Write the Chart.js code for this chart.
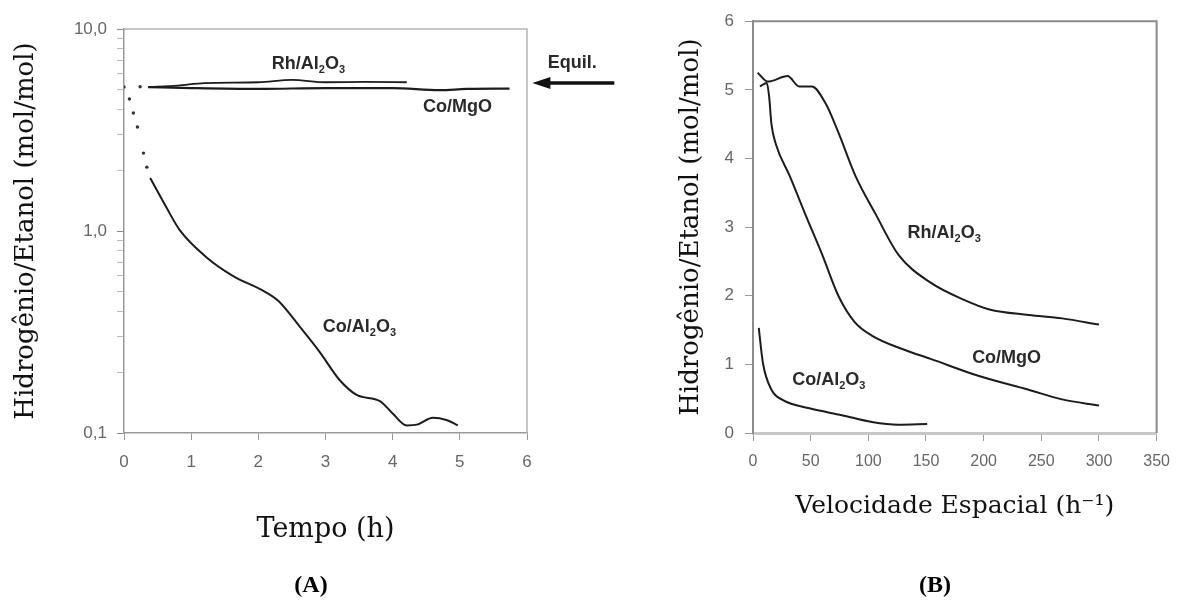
<!DOCTYPE html>
<html lang="pt">
<head>
<meta charset="utf-8">
<title>Hidrogênio/Etanol</title>
<script src="https://cdn.jsdelivr.net/npm/chart.js@4.4.1/dist/chart.umd.min.js"></script>
<style>
  html, body { margin: 0; padding: 0; background: #fff; }
  body { width: 1181px; height: 604px; position: relative; overflow: hidden; }
  canvas { position: absolute; top: 0; }
  #chartA { left: 0; }
  #chartB { left: 660px; }
  .tag { position: absolute; top: 570px; width: 80px; text-align: center;
         font: bold 24px "Liberation Serif", serif; line-height: 28px; color: #000; }
</style>
</head>
<body>
<canvas id="chartA" width="660" height="604"></canvas>
<canvas id="chartB" width="521" height="604"></canvas>
<div class="tag" style="left:271px">(A)</div>
<div class="tag" style="left:895px">(B)</div>

<script>
// (A) H2/etanol vs tempo, eixo log
const tempoCoAl = [0.39, 0.63, 0.83, 1.23, 1.62, 2.1, 2.3, 2.62, 2.92, 3.21, 3.47, 3.81, 4.0, 4.21, 4.36, 4.6, 4.8, 4.97];
const h2CoAl   = [1.83, 1.31, 1.01, 0.74, 0.6, 0.5, 0.45, 0.335, 0.25, 0.183, 0.154, 0.144, 0.125, 0.109, 0.11, 0.119, 0.116, 0.109];
const tempoDots = [0, 0.08, 0.14, 0.2, 0.29, 0.34, 0.24];
const h2Dots    = [5.16, 4.5, 3.84, 3.27, 2.43, 2.07, 5.18];
const tempoRh = [0.36, 0.8, 1.2, 2.0, 2.5, 3.0, 3.6, 4.21];
const h2Rh    = [5.16, 5.25, 5.4, 5.45, 5.6, 5.45, 5.47, 5.45];
const tempoMg = [0.36, 1.0, 2.0, 3.0, 4.0, 4.7, 5.1, 5.74];
const h2Mg    = [5.16, 5.1, 5.05, 5.1, 5.1, 4.98, 5.05, 5.07];
const ticksTempo = [0, 1, 2, 3, 4, 5, 6];
const ticksLog = [0.1, 0.2, 0.3, 0.4, 0.5, 0.6, 0.7, 0.8, 0.9, 1, 2, 3, 4, 5, 6, 7, 8, 9, 10];
const ticksLogMajor = [0.1, 1, 10];
const labelsLogMajor = ['0,1', '1,0', '10,0'];

// (B) H2/etanol vs velocidade espacial
const velRh = [4, 13, 30, 40, 51, 63, 74, 89, 106, 126, 154, 183, 205, 239, 268, 300];
const h2VRh = [5.25, 5.12, 5.2, 5.05, 5.05, 4.8, 4.38, 3.74, 3.2, 2.6, 2.19, 1.94, 1.8, 1.72, 1.67, 1.58];
const velMg = [6, 12, 14, 16, 20, 32, 46, 60, 74, 88, 103, 130, 154, 196, 239, 268, 300];
const h2VMg = [5.05, 5.1, 4.9, 4.5, 4.2, 3.74, 3.16, 2.6, 2.0, 1.62, 1.42, 1.22, 1.08, 0.83, 0.63, 0.49, 0.4];
const velCoAl = [5, 8.6, 16, 26, 49, 77, 103, 126, 151];
const h2VCoAl = [1.53, 1.02, 0.63, 0.48, 0.36, 0.26, 0.16, 0.12, 0.13];
const ticksVel = [0, 50, 100, 150, 200, 250, 300, 350];
const ticksH2 = [0, 1, 2, 3, 4, 5, 6];

const pts = (xs, ys) => xs.map((x, i) => ({ x: x, y: ys[i] }));

const titleFont = { family: 'DejaVu Serif', size: 26 };

const lineStyle = {
    borderColor: '#1c1c1c',
    borderWidth: 2,
    pointRadius: 0,
    cubicInterpolationMode: 'monotone',
    fill: false
};

// labels with subscripts + optional arrow
const textLabels = {
    id: 'textLabels',
    afterDatasetsDraw(chart, args, opts) {
        const { ctx, scales: { x, y } } = chart;
        ctx.save();
        ctx.textBaseline = 'middle';
        ctx.fillStyle = '#2a2a2a';
        (opts.items || []).forEach(item => {
            let px = x.getPixelForValue(item.x);
            const py = y.getPixelForValue(item.y);
            item.parts.forEach(([txt, sub]) => {
                ctx.font = sub ? 'bold 11px "Liberation Sans"' : 'bold 18px "Liberation Sans"';
                ctx.fillText(txt, px, py + (sub ? 6 : 0));
                px += ctx.measureText(txt).width;
            });
        });
        if (opts.arrow) {
            const a = opts.arrow;
            const x0 = x.getPixelForValue(a.from), x1 = x.getPixelForValue(a.to);
            const py = y.getPixelForValue(a.y);
            ctx.strokeStyle = '#111';
            ctx.lineWidth = 3.5;
            ctx.beginPath();
            ctx.moveTo(x0, py);
            ctx.lineTo(x1 + 12, py);
            ctx.stroke();
            ctx.fillStyle = '#111';
            ctx.beginPath();
            ctx.moveTo(x1, py);
            ctx.lineTo(x1 + 18, py - 6);
            ctx.lineTo(x1 + 18, py + 6);
            ctx.closePath();
            ctx.fill();
        }
        ctx.restore();
    }
};

// top + right frame lines
const frame = {
    id: 'frame',
    beforeDatasetsDraw(chart, args, opts) {
        const { ctx, chartArea: a } = chart;
        ctx.save();
        ctx.strokeStyle = opts.color;
        ctx.lineWidth = opts.width;
        ctx.beginPath();
        ctx.moveTo(a.left, a.top);
        ctx.lineTo(a.right, a.top);
        ctx.lineTo(a.right, a.bottom);
        ctx.stroke();
        ctx.restore();
    }
};

new Chart(document.getElementById('chartA'), {
    type: 'line',
    data: {
        datasets: [
            { label: 'inicio', data: pts(tempoDots, h2Dots), showLine: false,
              pointRadius: 1.7, pointBorderWidth: 0, pointBackgroundColor: '#333' },
            { label: 'Co/Al2O3', data: pts(tempoCoAl, h2CoAl), ...lineStyle },
            { label: 'Rh/Al2O3', data: pts(tempoRh, h2Rh), ...lineStyle, borderWidth: 1.8 },
            { label: 'Co/MgO', data: pts(tempoMg, h2Mg), ...lineStyle, borderWidth: 2.2 }
        ]
    },
    options: {
        responsive: false,
        animation: false,
        layout: { padding: { left: 0, top: 29, right: 133, bottom: 51 } },
        plugins: {
            legend: { display: false },
            tooltip: { enabled: false },
            frame: { color: '#b5b5b5', width: 1.5 },
            textLabels: {
                items: [
                    { x: 2.2, y: 6.7, parts: [['Rh/Al', 0], ['2', 1], ['O', 0], ['3', 1]] },
                    { x: 4.45, y: 4.1, parts: [['Co/MgO', 0]] },
                    { x: 2.96, y: 0.335, parts: [['Co/Al', 0], ['2', 1], ['O', 0], ['3', 1]] },
                    { x: 6.31, y: 6.8, parts: [['Equil.', 0]] }
                ],
                arrow: { from: 7.3, to: 6.08, y: 5.4 }
            }
        },
        scales: {
            x: {
                type: 'linear', min: 0, max: 6,
                afterBuildTicks: s => { s.ticks = ticksTempo.map(v => ({ value: v })); },
                afterFit: s => { s.height = 120; },
                grid: { drawOnChartArea: false, tickLength: 7, color: '#999' },
                border: { color: '#999', width: 1.5 },
                ticks: { padding: 12, color: '#666', font: { family: 'Liberation Sans', size: 17 },
                         maxRotation: 0, autoSkip: false },
                title: { display: true, text: 'Tempo (h)', color: '#111',
                         font: { family: 'DejaVu Serif', size: 27 }, padding: { top: 0, bottom: 7 } }
            },
            y: {
                type: 'logarithmic', min: 0.1, max: 10,
                afterBuildTicks: s => {
                    s.ticks = ticksLog.map(v => ({ value: v, major: ticksLogMajor.includes(v) }));
                },
                afterFit: s => { s.width = 124; },
                grid: {
                    drawOnChartArea: false, tickLength: 7,
                    tickColor: c => (c.tick && c.tick.major) ? '#888' : '#bbb'
                },
                border: { color: '#999', width: 1.5 },
                ticks: {
                    padding: 10, color: '#666', font: { family: 'Liberation Sans', size: 17 }, autoSkip: false,
                    callback: v => {
                        const i = ticksLogMajor.findIndex(m => Math.abs(m - v) < 1e-9);
                        return i >= 0 ? labelsLogMajor[i] : '';
                    }
                },
                title: { display: true, text: 'Hidrogênio/Etanol (mol/mol)', color: '#111',
                         font: titleFont, padding: { top: 11, bottom: 0 } }
            }
        }
    },
    plugins: [frame, textLabels]
});

new Chart(document.getElementById('chartB'), {
    type: 'line',
    data: {
        datasets: [
            { label: 'Rh/Al2O3', data: pts(velRh, h2VRh), ...lineStyle },
            { label: 'Co/MgO', data: pts(velMg, h2VMg), ...lineStyle },
            { label: 'Co/Al2O3', data: pts(velCoAl, h2VCoAl), ...lineStyle }
        ]
    },
    options: {
        responsive: false,
        animation: false,
        layout: { padding: { left: 0, top: 21, right: 18, bottom: 51 } },
        plugins: {
            legend: { display: false },
            tooltip: { enabled: false },
            frame: { color: '#8c8c8c', width: 2 },
            textLabels: {
                items: [
                    { x: 134, y: 2.92, parts: [['Rh/Al', 0], ['2', 1], ['O', 0], ['3', 1]] },
                    { x: 190, y: 1.09, parts: [['Co/MgO', 0]] },
                    { x: 34, y: 0.77, parts: [['Co/Al', 0], ['2', 1], ['O', 0], ['3', 1]] }
                ]
            }
        },
        scales: {
            x: {
                type: 'linear', min: 0, max: 350,
                afterBuildTicks: s => { s.ticks = ticksVel.map(v => ({ value: v })); },
                afterFit: s => { s.height = 120; },
                grid: { drawOnChartArea: false, tickLength: 8, color: '#999' },
                border: { color: '#c8c8c8', width: 3 },
                ticks: { padding: 11, color: '#666', font: { family: 'Liberation Sans', size: 16 },
                         maxRotation: 0, autoSkip: false },
                title: { display: true, text: 'Velocidade Espacial (h⁻¹)', color: '#111',
                         font: { family: 'DejaVu Serif', size: 25 }, padding: { top: 0, bottom: 32 } }
            },
            y: {
                min: 0, max: 6,
                afterBuildTicks: s => { s.ticks = ticksH2.map(v => ({ value: v })); },
                afterFit: s => { s.width = 93; },
                grid: { drawOnChartArea: false, tickLength: 8, color: '#999' },
                border: { color: '#8c8c8c', width: 2 },
                ticks: { padding: 11, color: '#666', font: { family: 'Liberation Sans', size: 17 }, autoSkip: false },
                title: { display: true, text: 'Hidrogênio/Etanol (mol/mol)', color: '#111',
                         font: titleFont, padding: { top: 16, bottom: 0 } }
            }
        }
    },
    plugins: [frame, textLabels]
});
</script>
</body>
</html>
